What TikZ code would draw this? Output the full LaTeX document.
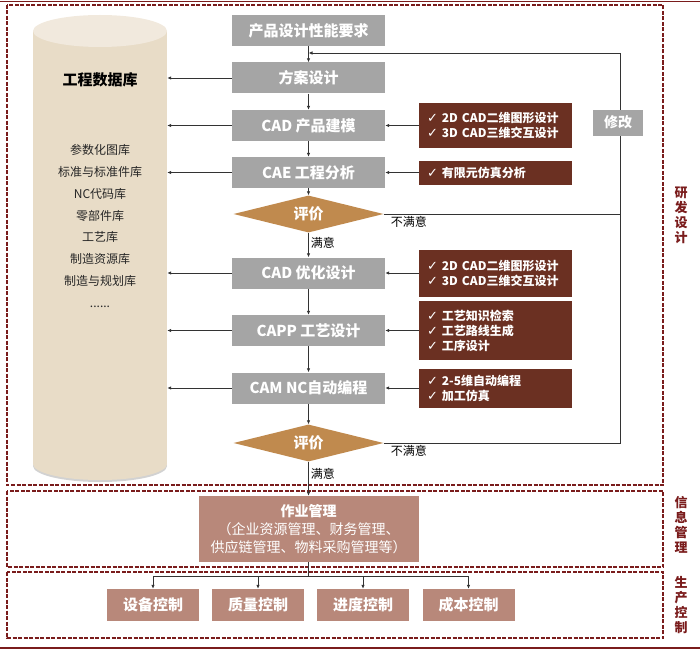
\documentclass[tikz,border=0pt]{standalone}
\usepackage{fontspec}
\setmainfont{Noto Sans CJK SC}
\newfontfamily\symfont{DejaVu Sans}
\usetikzlibrary{shapes.geometric,arrows.meta}
\definecolor{frame}{HTML}{7A1C1C}
\definecolor{flowgray}{HTML}{A5A5A5}
\definecolor{evalbrown}{HTML}{C08A4E}
\definecolor{toolbrown}{HTML}{6B3022}
\definecolor{mgmtrose}{HTML}{B8887A}
\definecolor{dbbody}{HTML}{E8DCC7}
\definecolor{dbtop}{HTML}{F1E9DD}
\newcommand{\ok}{{\symfont\fontsize{13pt}{15pt}\selectfont\char"2713}\ }

\begin{document}
\begin{tikzpicture}[x=1pt,y=-1pt]
	\tikzstyle{flow} = [rectangle, minimum width=153pt, minimum height=31pt, inner sep=0pt, fill=flowgray, text=white, font=\fontsize{15pt}{18pt}\selectfont\bfseries]
	\tikzstyle{judge} = [diamond, aspect=4, minimum width=150pt, minimum height=37pt, inner sep=0pt, fill=evalbrown, text=white, font=\fontsize{15pt}{18pt}\selectfont\bfseries]
	\tikzstyle{tool} = [rectangle, inner xsep=8pt, inner ysep=0pt, text width=137pt, align=left, fill=toolbrown, text=white, font=\fontsize{12pt}{15pt}\selectfont\bfseries]
	\tikzstyle{mgmt} = [rectangle, inner sep=0pt, align=center, fill=mgmtrose, text=white]
	\tikzstyle{zone} = [draw=frame, line width=1.6pt, dash pattern=on 4pt off 1.5pt]
	\tikzstyle{side} = [align=center, text=frame, font=\fontsize{13pt}{15pt}\selectfont\bfseries]
	\tikzstyle{note} = [font=\fontsize{12pt}{14pt}\selectfont, inner sep=2pt]
	\tikzstyle{line} = [draw=black!80, line width=0.9pt]
	\tikzstyle{arr} = [line, -{Latex[length=4pt,width=3.5pt]}]

	\useasboundingbox (0,0) rectangle (700,650);

	% frames
	\draw[frame, line width=1.5pt] (0,1.5) -- (700,1.5);
	\draw[frame, line width=1.5pt] (0,648) -- (700,648);
	\draw[zone] (7,5) rectangle (663,485);
	\draw[zone] (7,491) rectangle (663,567);
	\draw[zone] (7,572) rectangle (663,638);
	\node (rdlabel) [side] at (681,215) {研\\发\\设\\计};
	\node (imlabel) [side] at (681,525) {信\\息\\管\\理};
	\node (pclabel) [side] at (681,605) {生\\产\\控\\制};

	% database
	\fill[gray!35] (100,466) ellipse [x radius=67, y radius=16];
	\fill[dbbody] (100,464) ellipse [x radius=67, y radius=16];
	\node (db) [rectangle, fill=dbbody, minimum width=134pt, minimum height=433pt, inner sep=0pt] at (100,247.5) {};
	\fill[dbtop] (100,31) ellipse [x radius=67, y radius=16];
	\node (dbtitle) [font=\fontsize{15pt}{18pt}\selectfont\bfseries] at (100,80) {工程数据库};
	\node (dblist) [align=center, text=black!85, font=\fontsize{12pt}{21.8pt}\selectfont] at (100,226) {参数化图库\\标准与标准件库\\NC代码库\\零部件库\\工艺库\\制造资源库\\制造与规划库\\......};

	% main flow
	\node (req) [flow] at (308.5,30.5) {产品设计性能要求};
	\node (plan) [flow] at (308.5,78) {方案设计};
	\node (cad) [flow] at (308.5,125.5) {CAD 产品建模};
	\node (cae) [flow] at (308.5,172.5) {CAE 工程分析};
	\node (eval1) [judge] at (308.5,214) {评价};
	\node (opt) [flow] at (308.5,273) {CAD 优化设计};
	\node (capp) [flow] at (308.5,330.5) {CAPP 工艺设计};
	\node (cam) [flow] at (308.5,388) {CAM NC自动编程};
	\node (eval2) [judge] at (308.5,443) {评价};

	% tools
	\node (cadtool) [tool, minimum height=45pt] at (495.5,125.5) {\ok 2D CAD二维图形设计\\\ok 3D CAD三维交互设计};
	\node (caetool) [tool, minimum height=24pt] at (495.5,172.5) {\ok 有限元仿真分析};
	\node (opttool) [tool, minimum height=47pt] at (495.5,273) {\ok 2D CAD二维图形设计\\\ok 3D CAD三维交互设计};
	\node (capptool) [tool, minimum height=59pt] at (495.5,330.5) {\ok 工艺知识检索\\\ok 工艺路线生成\\\ok 工序设计};
	\node (camtool) [tool, minimum height=39pt] at (495.5,388) {\ok 2-5维自动编程\\\ok 加工仿真};

	% management and control
	\node (job) [mgmt, minimum width=220pt, minimum height=66pt, font=\fontsize{14pt}{18pt}\selectfont] at (308.5,529) {\textbf{作业管理}\\（企业资源管理、财务管理、\\供应链管理、物料采购管理等）};
	\node (equip) [mgmt, minimum width=92pt, minimum height=32pt, font=\fontsize{15pt}{18pt}\selectfont\bfseries] at (153,605) {设备控制};
	\node (quality) [mgmt, minimum width=92pt, minimum height=32pt, font=\fontsize{15pt}{18pt}\selectfont\bfseries] at (258,605) {质量控制};
	\node (progress) [mgmt, minimum width=92pt, minimum height=32pt, font=\fontsize{15pt}{18pt}\selectfont\bfseries] at (363,605) {进度控制};
	\node (cost) [mgmt, minimum width=92pt, minimum height=32pt, font=\fontsize{15pt}{18pt}\selectfont\bfseries] at (468.5,605) {成本控制};

	% connectors
	\draw[arr] (req) -- (plan);
	\draw[arr] (plan) -- (cad);
	\draw[arr] (cad) -- (cae);
	\draw[arr] (cae) -- (eval1);
	\draw[arr] (eval1) -- node[note, right, pos=0.4] {满意} (opt);
	\draw[arr] (opt) -- (capp);
	\draw[arr] (capp) -- (cam);
	\draw[arr] (cam) -- (eval2);
	\draw[arr] (eval2) -- node[note, right, pos=0.35] {满意} (job);

	\draw[arr] (plan.west) -- (plan.west -| db.east);
	\draw[arr] (cad.west) -- (cad.west -| db.east);
	\draw[arr] (cae.west) -- (cae.west -| db.east);
	\draw[arr] (opt.west) -- (opt.west -| db.east);
	\draw[arr] (capp.west) -- (capp.west -| db.east);
	\draw[arr] (cam.west) -- (cam.west -| db.east);

	\draw[arr] (cadtool) -- (cad);
	\draw[arr] (caetool) -- (cae);
	\draw[arr] (opttool) -- (opt);
	\draw[arr] (capptool) -- (capp);
	\draw[arr] (camtool) -- (cam);

	\coordinate (loopT) at (620,53);
	\draw[line] (eval1.east) -- node[note, below right, pos=0.02] {不满意} (eval1.east -| loopT);
	\draw[line] (eval2.east) -- node[note, below right, pos=0.02] {不满意} (eval2.east -| loopT) -- (loopT);
	\draw[arr] (loopT) -- (loopT -| req);
	\node (fix) [flow, minimum width=50pt, minimum height=26pt, font=\fontsize{14pt}{16pt}\selectfont\bfseries] at (618,122.5) {修改};

	\coordinate (fork) at (308.5,576);
	\draw[line] (job) -- (fork);
	\draw[arr] (fork) -| (equip);
	\draw[arr] (fork) -| (quality);
	\draw[arr] (fork) -| (progress);
	\draw[arr] (fork) -| (cost);
\end{tikzpicture}
\end{document}
